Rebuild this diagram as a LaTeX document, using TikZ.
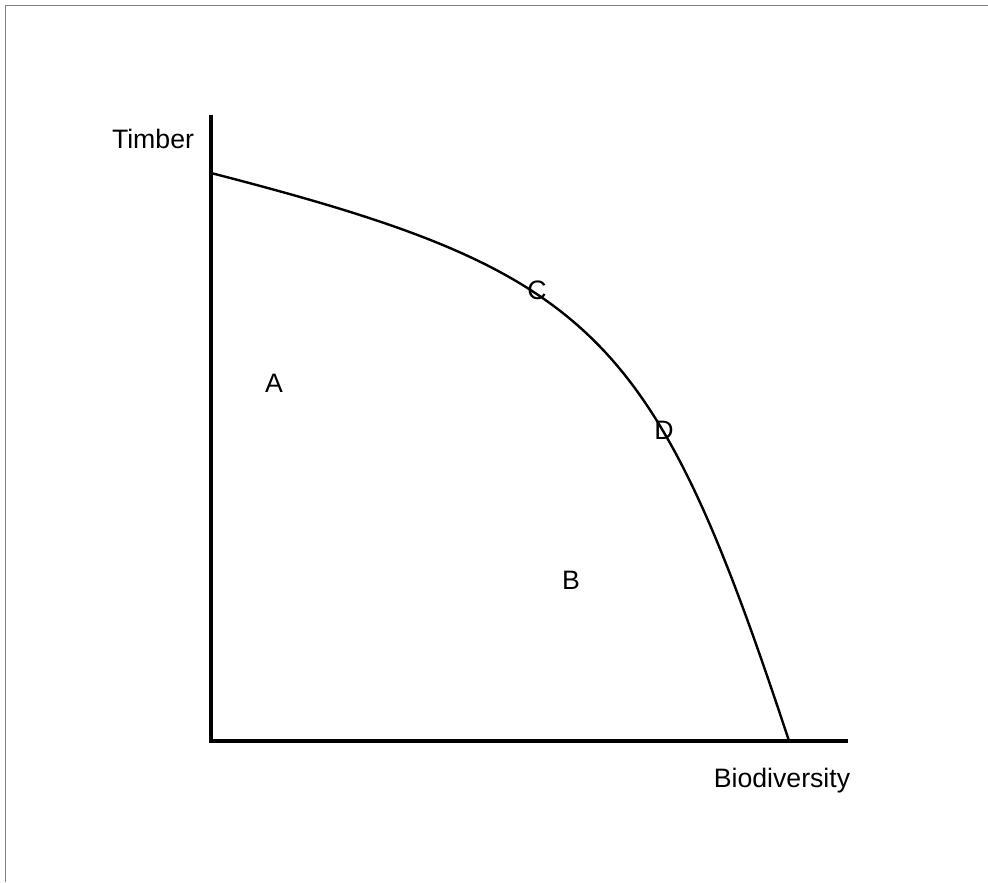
\documentclass[tikz,border=0pt]{standalone}
\usepackage{fontspec}
\setmainfont{Liberation Sans}
\usetikzlibrary{positioning}
\definecolor{ink}{HTML}{000000}
\definecolor{frame}{HTML}{808080}

\begin{document}
\begin{tikzpicture}[x=0.75pt,y=-0.75pt,lbl/.style={anchor=base,inner sep=0pt,text=ink,font=\fontsize{20}{24}\selectfont}]
\useasboundingbox (0,0) rectangle (988,882);
\draw[frame,line width=0.9pt] (5.5,882) -- (5.5,5.5) -- (988,5.5);
\coordinate (top) at (211,115); \coordinate (o) at (211,741); \coordinate (right) at (848,741);
\draw[ink,line width=2.4pt] (top)--(o)--(right);
% frontier
\coordinate (tmax) at (211,173); \coordinate (bmax) at (789,741);
\draw[ink,line width=1.8pt] (tmax) .. controls (595,272) and (653,329) .. (bmax);
\node[lbl] (timber) at (153,148) {Timber};
\node[lbl] (bio) at (782,787) {Biodiversity};
\node[lbl] (a) at (274,392) {A};
\node[lbl] (b) at (571,589) {B};
\node[lbl] (c) at (537,299) {C};
\node[lbl] (d) at (664,439) {D};
\end{tikzpicture}
\end{document}
